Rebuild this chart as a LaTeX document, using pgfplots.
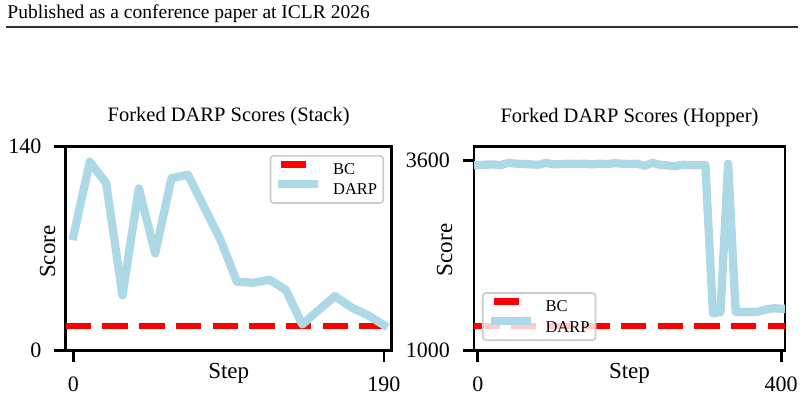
\documentclass[border=0pt]{standalone}
\usepackage{fontspec}
\setmainfont{Liberation Serif}
\usepackage{pgfplots}
\pgfplotsset{compat=1.18}
\definecolor{lblue}{HTML}{ADD8E6}
\pgfplotsset{
  myax/.style={
    scale only axis,
    axis line style={line width=2.6pt},
    every tick/.style={black, line width=2.6pt},
    major tick length=11.5pt,
    tick align=outside,
    xtick pos=bottom, ytick pos=left,
    ticklabel style={font=\fontsize{22}{24}\selectfont},
    /pgf/number format/assume math mode=true,
    /pgf/number format/.cd, 1000 sep={}, /pgfplots/.cd,
    xticklabel style={anchor=base, yshift=-29.5pt},
    yticklabel style={anchor=east, inner sep=0pt, xshift=-12.5pt},
    title style={at={(axis description cs:0.5,1)}, anchor=base, yshift=18.7pt, font=\fontsize{20.5}{23}\selectfont},
    xlabel style={at={(axis description cs:0.5,0)}, anchor=base, yshift=-27.6pt, font=\fontsize{23}{25}\selectfont},
    ylabel style={anchor=base, font=\fontsize{23}{25}\selectfont},
    legend style={draw=black!20, line width=1.7pt, rounded corners=3pt, fill=white, fill opacity=0.8, text opacity=1,
      font=\fontsize{16.5}{18}\selectfont, inner xsep=4.5pt, inner ysep=5pt, row sep=2pt,
      nodes={inner sep=1.5pt},
      /tikz/every odd column/.append style={column sep=10pt}},
    legend cell align=left,
  },
  bcstyle/.style={red, line width=6.7pt, dash pattern=on 25.5pt off 11.2pt,
    legend image code/.code={\draw[red, line width=6.7pt, line cap=butt] (-17pt,5.7pt) -- (8pt,5.7pt);
      \path (-20pt,0pt) (20pt,0pt);}},
  darpstyle/.style={lblue, line width=8.3pt, line join=round, line cap=rect,
    legend image code/.code={\draw[lblue, line width=8.3pt, line cap=rect] (-16pt,6.5pt) -- (16pt,6.5pt);}},
}
\begin{document}
\begin{tikzpicture}
\useasboundingbox (0pt,0pt) rectangle (804pt,399pt);
\node[anchor=base west, inner sep=0pt, font=\fontsize{19.5}{22}\selectfont] at (7.3pt,380.7pt) {Published as a conference paper at ICLR 2026};
\draw[line width=1.3pt, black!80] (6pt,372pt) -- (798pt,372pt);

\begin{axis}[myax, at={(65.7pt,48.3pt)}, anchor=south west, width=326pt, height=204pt,
  xmin=-4.75, xmax=194.75, ymin=0, ymax=140, xtick={0,190}, ytick={0,140},
  title={Forked DARP Scores (Stack)}, xlabel={Step}, ylabel={Score},
  ylabel style={at={(axis description cs:-0.0328,0.485)}},
  legend style={at={(axis description cs:0.9764,0.9593)}, anchor=north east}]
\addplot[bcstyle] coordinates {(-4.75,17) (194.75,17)};
\addlegendentry{BC}
\addplot[darpstyle] coordinates {
(0,78.7) (10,129.7) (20,115) (30,38) (40,111.4) (50,66.8) (60,118.3) (70,120.8)
(80,98.4) (90,76) (100,47.4) (110,46.6) (120,48.7) (130,41.7) (140,18) (150,27.8)
(160,37.5) (170,29.7) (180,24.5) (190,17.6)};
\addlegendentry{DARP}
\end{axis}

\begin{axis}[myax, at={(474pt,48.3pt)}, anchor=south west, width=311pt, height=204pt,
  xmin=-5, xmax=405, ymin=1000, ymax=3792, xtick={0,400}, ytick={1000,3600},
  title={Forked DARP Scores (Hopper)}, xlabel={Step}, ylabel={Score},
  ylabel style={at={(axis description cs:-0.0707,0.494)}},
  legend style={at={(axis description cs:0.0257,0.0475)}, anchor=south west}]
\addplot[bcstyle] coordinates {(-5,1340) (405,1340)};
\addlegendentry{BC}
\addplot[darpstyle] coordinates {
(0,3540) (10,3545) (20,3550) (30,3540) (40,3570) (50,3560) (60,3555) (70,3550)
(80,3545) (90,3570) (100,3550) (110,3555) (120,3560) (130,3555) (140,3560) (150,3550)
(160,3560) (170,3555) (180,3565) (190,3560) (200,3555) (210,3560) (220,3530) (230,3570)
(240,3545) (250,3535) (260,3525) (270,3545) (280,3540) (290,3540) (300,3541)
(310,1510) (320,1530) (330,3560) (340,1530) (350,1530) (360,1530) (370,1535)
(380,1565) (390,1580) (400,1575)};
\addlegendentry{DARP}
\end{axis}
\end{tikzpicture}
\end{document}
